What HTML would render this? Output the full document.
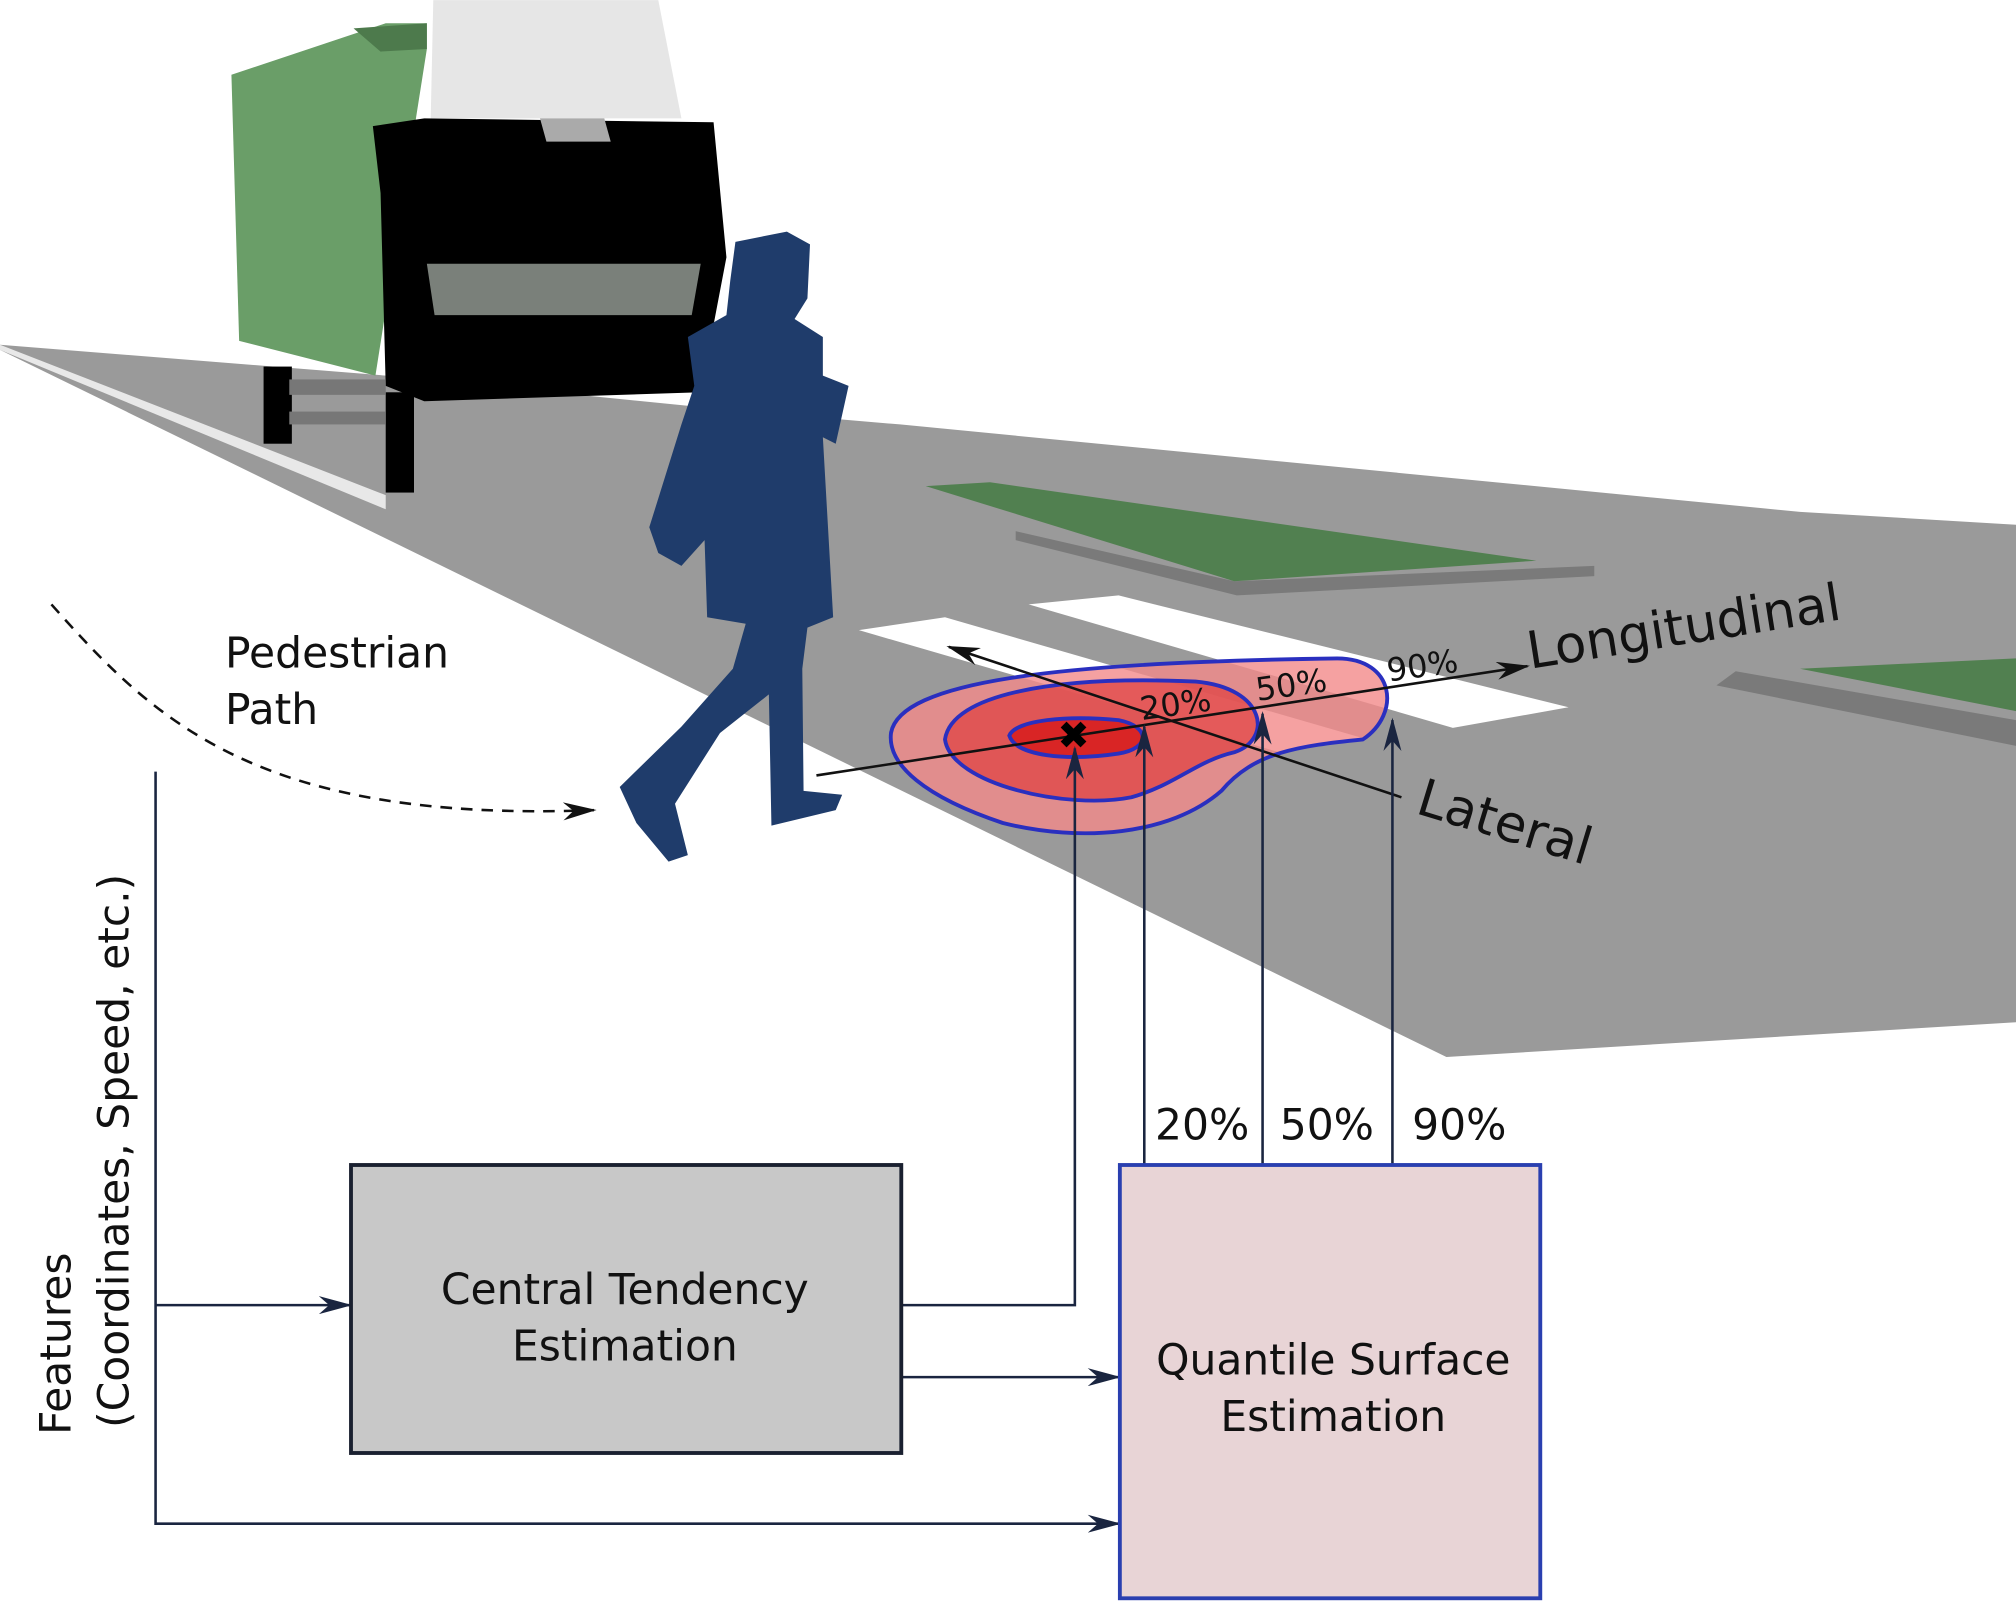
<!DOCTYPE html>
<html><head><meta charset="utf-8"><style>
html,body{margin:0;padding:0;background:#fff;}
svg{display:block;font-family:"DejaVu Sans","Liberation Sans",sans-serif;}
</style></head><body>
<svg width="2016" height="1601" viewBox="0 0 1568 1245" xmlns="http://www.w3.org/2000/svg">
<defs>
<marker id="ah" viewBox="0 0 26 14" refX="24" refY="7" markerWidth="26" markerHeight="14" markerUnits="userSpaceOnUse" orient="auto"><path d="M0,0 L26,7 L0,14 L8,7 Z" fill="#111"/></marker>
<marker id="ahb" viewBox="0 0 26 14" refX="24" refY="7" markerWidth="26" markerHeight="14" markerUnits="userSpaceOnUse" orient="auto"><path d="M0,0 L26,7 L0,14 L8,7 Z" fill="#1a2540"/></marker>
</defs>
<rect width="1568" height="1245" fill="#fff"/>
<g>
<polygon points="0,268 300,292 560,318 700,330 1400,398 1568,408 1568,795 1125,822 0,272" fill="#9a9a9a"/>
<polygon points="0,268 300,385 300,396 0,272" fill="#e8e8e8"/>
<polygon points="668,490 735,480 1060,574 995,585" fill="#fff"/>
<polygon points="800,470 870,463 1220,550 1130,566" fill="#fff"/>
<polygon points="790,413 960,452 1240,440 1240,448 962,463 790,420" fill="#7a7a7a"/>
<polygon points="720,378 770,375 1195,436 960,452" fill="#518050"/>
<polygon points="1335,533 1350,522 1568,560 1568,580" fill="#7a7a7a"/>
<polygon points="1400,520 1568,512 1568,553" fill="#518050"/>
</g>
<g>
<polygon points="180,58 300,18 332,18 332,38 292,292 186,265" fill="#6a9e68"/>
<polygon points="275,22 332,18 332,38 296,40" fill="#4d7a4c"/>
<polygon points="337,0 512,0 530,92 335,92" fill="#e6e6e6"/>
<polygon points="290,98 330,92 555,95 565,200 545,305 330,312 300,300 296,150" fill="#000"/>
<polygon points="332,205 545,205 538,245 338,245" fill="#7a807a"/>
<polygon points="420,92 470,92 475,110 425,110" fill="#aaa"/>
<rect x="205" y="285" width="22" height="60" fill="#000"/>
<rect x="300" y="305" width="22" height="78" fill="#000"/>
<rect x="225" y="295" width="75" height="12" fill="#777"/>
<rect x="225" y="320" width="75" height="10" fill="#777"/>
</g>
<path fill="#1f3c6b" d="M572,188 L612,180 L630,190 L628,232 L618,248 L640,262 L640,292 L660,300 L650,345 L640,340 L648,480 L628,488 L624,520 L625,615 L655,618 L650,630 L600,642 L598,540 L560,570 L525,625 L535,665 L520,670 L495,640 L482,612 L530,565 L570,520 L580,485 L550,480 L548,420 L530,440 L512,430 L505,410 L530,330 L540,300 L535,262 L565,245 L568,218 Z"/>
<path d="M40,470 C120,560 200,640 462,630" fill="none" stroke="#111" stroke-width="2" stroke-dasharray="9,7" marker-end="url(#ah)"/>
<text x="175" y="519" font-size="33" fill="#111">Pedestrian</text>
<text x="175" y="563" font-size="33" fill="#111">Path</text>
<g stroke="#2a2fbf" stroke-width="3">
<path d="M693,570 C700,530 820,515 1040,512 C1085,512 1090,555 1060,575 C1010,580 975,585 950,615 C910,650 840,655 780,640 C720,620 690,595 693,570 Z" fill="#f28a8a" fill-opacity="0.8"/>
<path d="M735,575 C740,540 820,525 930,530 C985,535 990,575 960,585 C930,592 915,610 880,620 C830,630 740,610 735,575 Z" fill="#e04848" fill-opacity="0.8"/>
<path d="M785,572 C790,560 830,556 870,560 C895,565 895,582 870,586 C830,592 790,588 785,572 Z" fill="#d82020" fill-opacity="0.9"/>
</g>
<line x1="635" y1="603" x2="1188" y2="518" stroke="#111" stroke-width="2" marker-end="url(#ah)"/>
<line x1="1090" y1="620" x2="738" y2="503" stroke="#111" stroke-width="2" marker-end="url(#ah)"/>
<text x="1190" y="520" font-size="40" fill="#111" transform="rotate(-9 1190 520)">Longitudinal</text>
<text x="1100" y="632" font-size="40" fill="#111" transform="rotate(17 1100 632)">Lateral</text>
<text x="888" y="560" font-size="25" fill="#111" transform="rotate(-8 888 560)">20%</text>
<text x="978" y="545" font-size="25" fill="#111" transform="rotate(-8 978 545)">50%</text>
<text x="1080" y="530" font-size="25" fill="#111" transform="rotate(-8 1080 530)">90%</text>
<text x="835" y="582" font-size="30" font-weight="bold" text-anchor="middle" fill="#000">✖</text>
<g fill="none" stroke="#1a2540" stroke-width="2">
<polyline points="701,1015 836,1015 836,582" marker-end="url(#ahb)"/>
<line x1="890" y1="906" x2="890" y2="565" marker-end="url(#ahb)"/>
<line x1="982" y1="906" x2="982" y2="555" marker-end="url(#ahb)"/>
<line x1="1083" y1="906" x2="1083" y2="560" marker-end="url(#ahb)"/>
<polyline points="121,600 121,1185 870,1185" marker-end="url(#ahb)"/>
<line x1="121" y1="1015" x2="272" y2="1015" marker-end="url(#ahb)"/>
<line x1="701" y1="1071" x2="870" y2="1071" marker-end="url(#ahb)"/>
</g>
<text x="935" y="886" font-size="33" text-anchor="middle" fill="#111">20%</text>
<text x="1032" y="886" font-size="33" text-anchor="middle" fill="#111">50%</text>
<text x="1135" y="886" font-size="33" text-anchor="middle" fill="#111">90%</text>
<rect x="273" y="906" width="428" height="224" fill="#c8c8c8" stroke="#1a2030" stroke-width="3"/>
<text x="486" y="1014" font-size="33" text-anchor="middle" fill="#111">Central Tendency</text>
<text x="486" y="1058" font-size="33" text-anchor="middle" fill="#111">Estimation</text>
<rect x="871" y="906" width="327" height="337" fill="#e8d4d6" stroke="#2a3fb0" stroke-width="3"/>
<text x="1037" y="1069" font-size="33" text-anchor="middle" fill="#111">Quantile Surface</text>
<text x="1037" y="1113" font-size="33" text-anchor="middle" fill="#111">Estimation</text>
<text font-size="33" text-anchor="middle" fill="#111" transform="translate(55,1045) rotate(-90)">Features</text>
<text font-size="33" text-anchor="middle" fill="#111" transform="translate(100,895) rotate(-90)">(Coordinates, Speed, etc.)</text>
</svg>
</body></html>
